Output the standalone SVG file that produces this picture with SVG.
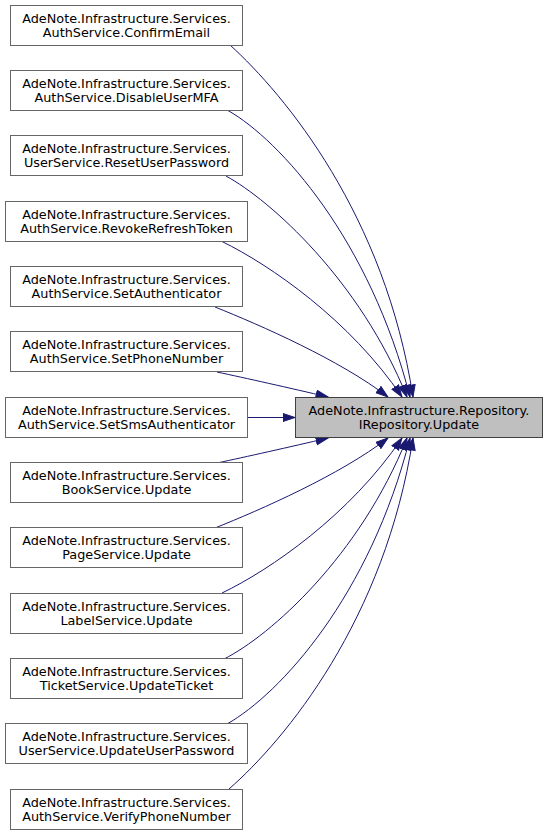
<svg xmlns="http://www.w3.org/2000/svg" width="548" height="836" viewBox="0 0 548 836">
<style>
.n rect{fill:#ffffff;stroke:#666666;stroke-width:1}
.cur rect{fill:#bfbfbf;stroke:#404040;stroke-width:1}
text{font-family:"DejaVu Sans","Liberation Sans",sans-serif;font-size:12.8px;text-anchor:middle;fill:#000000}
.e path{fill:none;stroke:#191970;stroke-width:1;marker-end:url(#ah)}
</style>
<defs>
<marker id="ah" markerUnits="userSpaceOnUse" markerWidth="14" markerHeight="11" refX="12.5" refY="4.5" orient="auto">
<path d="M0.5,0.5 L12.5,4.5 L0.5,8.5 z" fill="#191970" stroke="#191970" stroke-width="1"/>
</marker>
</defs>
<rect width="548" height="836" fill="#ffffff"/>
<g id="edges" class="e">
<path d="M230,45 C285,95 385,215 413,397"/>
<path d="M228,110.5 C280,140 370,240 410,397"/>
<path d="M226,176 C270,200 360,280 407,397"/>
<path d="M222,241.5 C270,265 350,320 402,397"/>
<path d="M215,307 C260,325 340,360 388,397"/>
<path d="M217,372 C245,378 290,388 328,397"/>
<path d="M248,417.5 L295,417.5"/>
<path d="M217,463 C245,457 290,447 328,438"/>
<path d="M215,528 C260,510 340,475 388,438"/>
<path d="M222,593 C270,570 350,515 402,438"/>
<path d="M224,659 C270,636 360,556 407,438"/>
<path d="M227,724 C280,694 370,596 410,438"/>
<path d="M229,789 C285,740 385,620 413,438"/>
</g>
<g id="target" class="cur"><rect x="295.5" y="397.5" width="247" height="40"/><text x="419" y="414.5">AdeNote.Infrastructure.Repository.</text><text x="419" y="429">IRepository.Update</text></g>
<g id="n0" class="n"><rect x="10.5" y="5.5" width="232" height="40"/><text x="126.5" y="22.5">AdeNote.Infrastructure.Services.</text><text x="126.5" y="37">AuthService.ConfirmEmail</text></g>
<g id="n1" class="n"><rect x="10.5" y="70.5" width="232" height="40"/><text x="126.5" y="87.5">AdeNote.Infrastructure.Services.</text><text x="126.5" y="102">AuthService.DisableUserMFA</text></g>
<g id="n2" class="n"><rect x="10.5" y="135.5" width="232" height="40"/><text x="126.5" y="152.5">AdeNote.Infrastructure.Services.</text><text x="126.5" y="167">UserService.ResetUserPassword</text></g>
<g id="n3" class="n"><rect x="5.5" y="201.5" width="242" height="40"/><text x="126.5" y="218.5">AdeNote.Infrastructure.Services.</text><text x="126.5" y="233">AuthService.RevokeRefreshToken</text></g>
<g id="n4" class="n"><rect x="10.5" y="266.5" width="232" height="40"/><text x="126.5" y="283.5">AdeNote.Infrastructure.Services.</text><text x="126.5" y="298">AuthService.SetAuthenticator</text></g>
<g id="n5" class="n"><rect x="10.5" y="331.5" width="232" height="40"/><text x="126.5" y="348.5">AdeNote.Infrastructure.Services.</text><text x="126.5" y="363">AuthService.SetPhoneNumber</text></g>
<g id="n6" class="n"><rect x="5.5" y="397.5" width="242" height="40"/><text x="126.5" y="414.5">AdeNote.Infrastructure.Services.</text><text x="126.5" y="429">AuthService.SetSmsAuthenticator</text></g>
<g id="n7" class="n"><rect x="10.5" y="462.5" width="232" height="40"/><text x="126.5" y="479.5">AdeNote.Infrastructure.Services.</text><text x="126.5" y="494">BookService.Update</text></g>
<g id="n8" class="n"><rect x="10.5" y="527.5" width="232" height="40"/><text x="126.5" y="544.5">AdeNote.Infrastructure.Services.</text><text x="126.5" y="559">PageService.Update</text></g>
<g id="n9" class="n"><rect x="10.5" y="593.5" width="232" height="40"/><text x="126.5" y="610.5">AdeNote.Infrastructure.Services.</text><text x="126.5" y="625">LabelService.Update</text></g>
<g id="n10" class="n"><rect x="10.5" y="658.5" width="232" height="40"/><text x="126.5" y="675.5">AdeNote.Infrastructure.Services.</text><text x="126.5" y="690">TicketService.UpdateTicket</text></g>
<g id="n11" class="n"><rect x="5.5" y="723.5" width="242" height="40"/><text x="126.5" y="740.5">AdeNote.Infrastructure.Services.</text><text x="126.5" y="755">UserService.UpdateUserPassword</text></g>
<g id="n12" class="n"><rect x="10.5" y="789.5" width="232" height="40"/><text x="126.5" y="806.5">AdeNote.Infrastructure.Services.</text><text x="126.5" y="821">AuthService.VerifyPhoneNumber</text></g>
</svg>
